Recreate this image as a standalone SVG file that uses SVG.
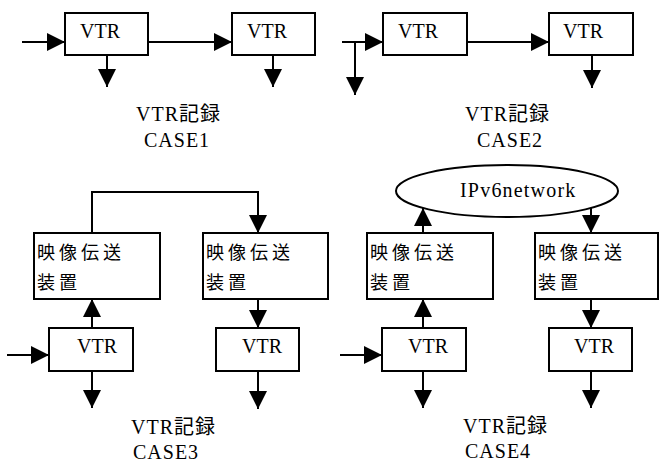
<svg xmlns="http://www.w3.org/2000/svg" width="659" height="462" viewBox="0 0 659 462">
<defs>
<marker id="ah" viewBox="0 0 18 18" refX="18" refY="9" markerWidth="18" markerHeight="18" markerUnits="userSpaceOnUse" orient="auto">
<path d="M0,0 L18,9 L0,18 z" fill="#000"/>
</marker>
<style>
.box{fill:#fff;stroke:#000;stroke-width:2}
.ln{fill:none;stroke:#000;stroke-width:2;marker-end:url(#ah)}
.t{font-family:"Liberation Serif","Noto Sans CJK JP",serif;font-size:20px;fill:#000}
.j{font-family:"Noto Sans CJK JP","Liberation Sans",sans-serif;font-size:18px;letter-spacing:4px;fill:#000}
.lab{font-family:"Liberation Serif","Noto Sans CJK JP",serif;font-size:20px;letter-spacing:1px;fill:#000}
</style>
</defs>
<rect width="659" height="462" fill="#fff"/>
<g id="connectors">
<line class="ln" x1="22" y1="42" x2="65" y2="42"/>
<line class="ln" x1="148" y1="42" x2="232" y2="42"/>
<line class="ln" x1="107" y1="55" x2="107" y2="87"/>
<line class="ln" x1="273" y1="55" x2="273" y2="87"/>
<line class="ln" x1="342" y1="42" x2="383" y2="42"/>
<line class="ln" x1="355" y1="42" x2="355" y2="95"/>
<line class="ln" x1="467" y1="42" x2="549" y2="42"/>
<line class="ln" x1="592" y1="55" x2="592" y2="88"/>
<polyline class="ln" points="92,233 92,192 258,192 258,233"/>
<line class="ln" x1="92" y1="328" x2="92" y2="299"/>
<line class="ln" x1="7" y1="355" x2="49" y2="355"/>
<line class="ln" x1="92" y1="371" x2="92" y2="408"/>
<line class="ln" x1="258" y1="299" x2="258" y2="328"/>
<line class="ln" x1="258" y1="371" x2="258" y2="409"/>
<line class="ln" x1="423" y1="233" x2="423" y2="208"/>
<line class="ln" x1="591" y1="204" x2="591" y2="233"/>
<line class="ln" x1="423" y1="328" x2="423" y2="299"/>
<line class="ln" x1="340" y1="355" x2="382" y2="355"/>
<line class="ln" x1="423" y1="371" x2="423" y2="408"/>
<line class="ln" x1="591" y1="299" x2="591" y2="328"/>
<line class="ln" x1="591" y1="371" x2="591" y2="408"/>
</g>
<g id="c1-vtr1"><rect class="box" x="65" y="13" width="83" height="42"/><text class="t" x="80" y="38">VTR</text></g>
<g id="c1-vtr2"><rect class="box" x="232" y="13" width="83" height="42"/><text class="t" x="247" y="38">VTR</text></g>
<g id="c1-label"><text class="lab" x="136" y="121">VTR記録</text><text class="lab" x="144" y="147">CASE1</text></g>
<g id="c2-vtr1"><rect class="box" x="383" y="13" width="84" height="42"/><text class="t" x="398" y="38">VTR</text></g>
<g id="c2-vtr2"><rect class="box" x="549" y="13" width="84" height="42"/><text class="t" x="563" y="38">VTR</text></g>
<g id="c2-label"><text class="lab" x="465" y="121">VTR記録</text><text class="lab" x="477" y="147">CASE2</text></g>
<g id="c3-tx1"><rect class="box" x="34" y="233" width="126" height="66"/><text class="j" x="37" y="259">映像伝送</text><text class="j" x="37" y="289">装置</text></g>
<g id="c3-tx2"><rect class="box" x="203" y="233" width="125" height="66"/><text class="j" x="206" y="259">映像伝送</text><text class="j" x="206" y="289">装置</text></g>
<g id="c3-vtr1"><rect class="box" x="49" y="328" width="84" height="43"/><text class="t" x="77" y="353">VTR</text></g>
<g id="c3-vtr2"><rect class="box" x="216" y="328" width="83" height="43"/><text class="t" x="242" y="353">VTR</text></g>
<g id="c3-label"><text class="lab" x="131" y="434">VTR記録</text><text class="lab" x="133" y="459">CASE3</text></g>
<g id="c4-net"><ellipse cx="507" cy="191" rx="111" ry="26" fill="#fff" stroke="#000" stroke-width="2"/><text class="t" x="460" y="197" style="letter-spacing:1.2px">IPv6network</text></g>
<g id="c4-tx1"><rect class="box" x="367" y="233" width="126" height="66"/><text class="j" x="370" y="259">映像伝送</text><text class="j" x="370" y="289">装置</text></g>
<g id="c4-tx2"><rect class="box" x="535" y="233" width="123" height="66"/><text class="j" x="538" y="259">映像伝送</text><text class="j" x="538" y="289">装置</text></g>
<g id="c4-vtr1"><rect class="box" x="382" y="328" width="84" height="43"/><text class="t" x="408" y="353">VTR</text></g>
<g id="c4-vtr2"><rect class="box" x="549" y="328" width="83" height="43"/><text class="t" x="574" y="353">VTR</text></g>
<g id="c4-label"><text class="lab" x="463" y="433">VTR記録</text><text class="lab" x="465" y="458">CASE4</text></g>
</svg>
